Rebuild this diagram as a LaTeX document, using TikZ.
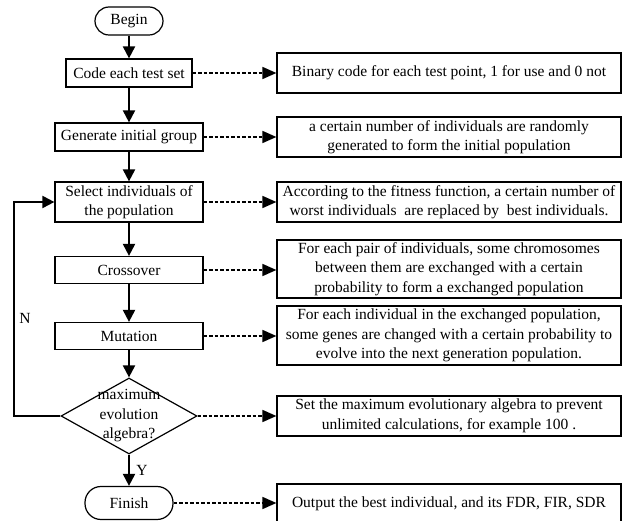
\documentclass[tikz,border=0pt]{standalone}
\usepackage{fontspec}
\setmainfont{Liberation Serif}
\usetikzlibrary{arrows.meta,shapes.geometric}
\begin{document}
\begin{tikzpicture}[x=1pt,y=-1pt,
  every node/.style={font=\fontsize{15.5}{19.5}\selectfont},
  leftbox/.style={draw,line width=1.2pt,inner sep=0pt,align=center},
  rightbox/.style={draw,line width=1.2pt,inner sep=0pt,align=center,minimum width=344pt},
  term/.style={draw,line width=1.2pt,rounded corners=14pt,inner sep=0pt},
  flow/.style={line width=2pt,-{Triangle[length=12pt,width=12pt]}},
  dashflow/.style={line width=1.6pt,dash pattern=on 3.5pt off 2pt,-{Triangle[length=14pt,width=12pt]}},
  lbl/.style={inner sep=0pt}]
\useasboundingbox (0,0) rectangle (622,521);
% left column
\node[term,minimum width=68pt,minimum height=28pt] (begin) at (129,21) {Begin};
\node[leftbox,minimum width=126pt,minimum height=28pt] (code) at (129,73) {Code each test set};
\node[leftbox,minimum width=148pt,minimum height=28pt] (gen) at (129,137) {Generate initial group};
\node[leftbox,minimum width=148pt,minimum height=40pt] (sel) at (129,202) {Select individuals of\\the population};
\node[leftbox,minimum width=148pt,minimum height=27pt] (cross) at (129,270) {Crossover};
\node[leftbox,minimum width=148pt,minimum height=27pt] (mut) at (129,336) {Mutation};
\node[diamond,draw,line width=1.2pt,inner sep=0pt,minimum width=136pt,minimum height=76pt] (dec) at (129,416) {};
\node[align=center,inner sep=0pt] (dectext) at (129,416) {maximum\\evolution\\algebra?};
\node[draw,line width=1.2pt,rounded corners=16pt,inner sep=0pt,minimum width=88pt,minimum height=33pt] (fin) at (129,503) {Finish};
% right column
\node[rightbox,minimum height=40pt] (r1) at (449,73) {Binary code for each test point, 1 for use and 0 not};
\node[rightbox,minimum height=40pt] (r2) at (449,137) {a certain number of individuals are randomly\\generated to form the initial population};
\node[rightbox,minimum height=40pt] (r3) at (449,202) {According to the fitness function, a certain number of\\worst individuals\ \ are replaced by\ \ best individuals.};
\node[rightbox,minimum height=58pt] (r4) at (449,269) {For each pair of individuals, some chromosomes\\between them are exchanged with a certain\\probability to form a exchanged population};
\node[rightbox,minimum height=59pt] (r5) at (449,335.5) {For each individual in the exchanged population,\\some genes are changed with a certain probability to\\evolve into the next generation population.};
\node[rightbox,minimum height=40pt] (r6) at (449,416) {Set the maximum evolutionary algebra to prevent\\unlimited calculations, for example 100 .};
\node[rightbox,minimum height=40pt] (r7) at (449,504) {Output the best individual, and its FDR, FIR, SDR};
% main flow
\draw[flow] (begin) -- (code);
\draw[flow] (code) -- (gen);
\draw[flow] (gen) -- (sel);
\draw[flow] (sel) -- (cross);
\draw[flow] (cross) -- (mut);
\draw[flow] (mut) -- (dec.north);
\draw[flow] (dec.south) -- (fin);
\coordinate (loopx) at (14,416);
\draw[flow] (dec.west) -- (loopx) |- (sel.west);
\node[lbl] (nlab) at (25,318) {N};
\node[lbl] (ylab) at (142,470) {Y};
% dashed links
\draw[dashflow] (code.east) -- (r1.west);
\draw[dashflow] (gen.east) -- (r2.west);
\draw[dashflow] (sel.east) -- (r3.west);
\draw[dashflow] (cross.east) -- (r4.west |- cross.east);
\draw[dashflow] (mut.east) -- (r5.west |- mut.east);
\draw[dashflow] (dec.east) -- (r6.west);
\draw[dashflow] (fin.east) -- (r7.west |- fin.east);
\end{tikzpicture}
\end{document}
